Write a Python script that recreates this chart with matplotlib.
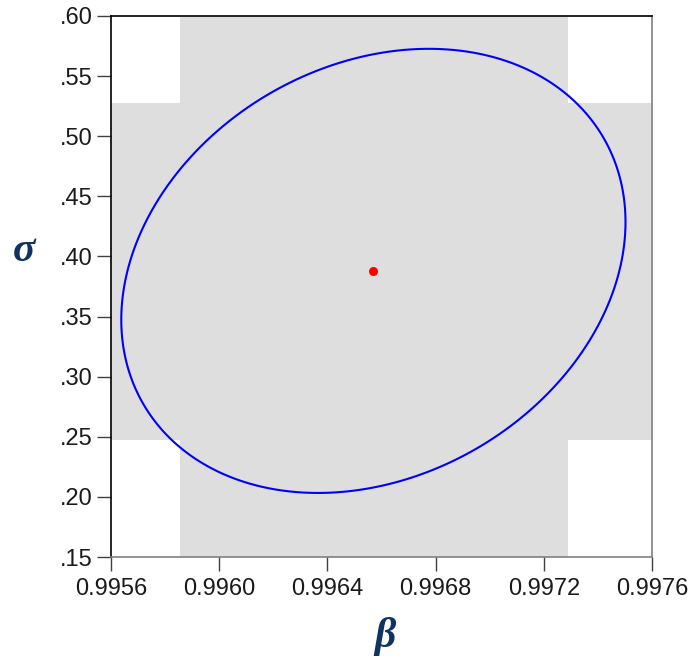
import numpy as np
import matplotlib
matplotlib.use("Agg")
import matplotlib.pyplot as plt
from matplotlib.patches import Polygon
from matplotlib.ticker import FuncFormatter

# point estimate
beta_hat = 0.996570
sigma_hat = 0.3880

# individual confidence intervals (shaded bands)
beta_ci = [0.995855, 0.997290]
sigma_ci = [0.2473, 0.5276]

# joint confidence ellipse: half-extents and correlation
beta_half = 0.000932
sigma_half = 0.1847
corr = 0.22

xticks = [0.9956, 0.9960, 0.9964, 0.9968, 0.9972, 0.9976]
yticks = [0.15, 0.20, 0.25, 0.30, 0.35, 0.40, 0.45, 0.50, 0.55, 0.60]

plt.rcParams['font.family'] = ['Liberation Sans', 'DejaVu Sans']

fig = plt.figure(figsize=(6.89, 6.61), dpi=100)
ax = fig.add_axes([0.1611, 0.1573, 0.7852, 0.8185])

x0, x1 = xticks[0], xticks[-1]
y0, y1 = yticks[0], yticks[-1]
gray = "#dedede"
ax.axvspan(beta_ci[0], beta_ci[1], color=gray, lw=0, zorder=0)
ax.axhspan(sigma_ci[0], sigma_ci[1], color=gray, lw=0, zorder=0)

t = np.linspace(0, 2 * np.pi, 400, endpoint=False)
ex = beta_hat + beta_half * np.cos(t)
ey = sigma_hat + sigma_half * (corr * np.cos(t) + np.sqrt(1 - corr ** 2) * np.sin(t))
ax.add_patch(Polygon(np.column_stack([ex, ey]), closed=True, fill=False,
                     edgecolor="#0000ff", lw=1.5, joinstyle="round", zorder=2))
ax.plot([beta_hat], [sigma_hat], "o", color="#ff0000", ms=6.5, mec="none", zorder=3)

ax.set_xlim(x0, x1)
ax.set_ylim(y0, y1)
ax.set_xticks(xticks)
ax.set_yticks(yticks)
ax.xaxis.set_major_formatter(FuncFormatter(lambda v, p: f"{v:.4f}"))
ax.yaxis.set_major_formatter(FuncFormatter(lambda v, p: f"{v:.2f}".lstrip("0")))
ax.tick_params(direction="out", length=10, width=1, labelsize=17,
               color="#404040", labelcolor="#1a1a1a", pad=3)
ax.tick_params(axis="x", pad=5)

ax.spines["left"].set_color("black")
ax.spines["top"].set_color("black")
ax.spines["right"].set_color("#808080")
ax.spines["bottom"].set_color("#808080")
for s in ax.spines.values():
    s.set_linewidth(1.2)

label_kw = dict(fontsize=30, fontweight="bold", fontstyle="italic",
                color="#0f3460", family=["Liberation Serif", "DejaVu Serif"])
fig.text(24 / 689, 1 - 251 / 661, "σ", ha="center", va="center", **label_kw)
fig.text(385 / 689, 1 - 636 / 661, "β", ha="center", va="center", **label_kw)

fig.savefig("out.png", dpi=100)
